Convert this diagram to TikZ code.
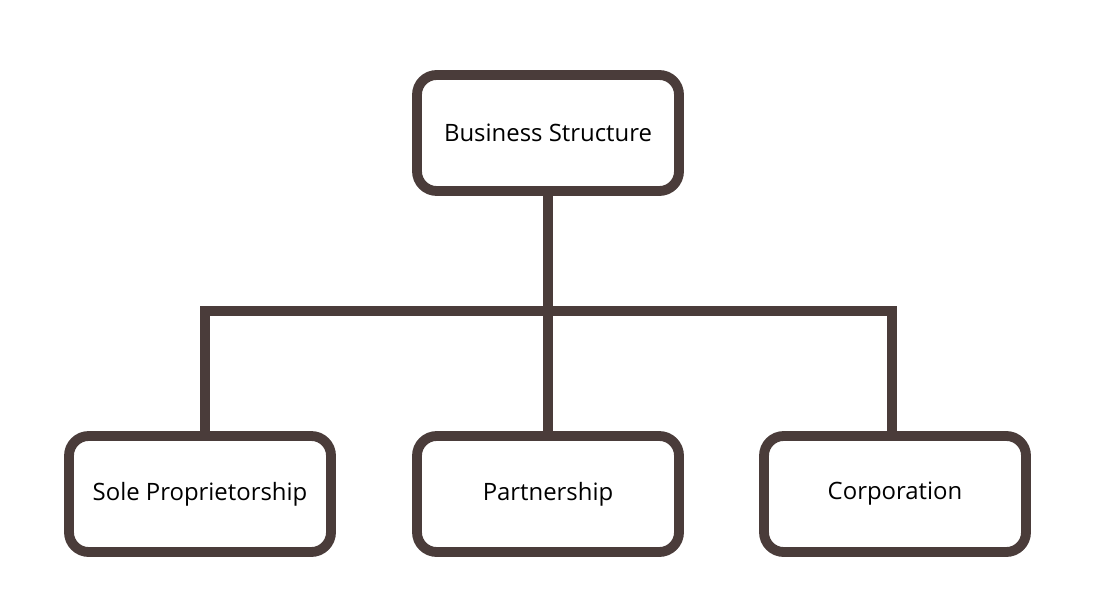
\documentclass[tikz,border=0pt]{standalone}
\usepackage{fontspec}
\setmainfont{Open Sans}
\usetikzlibrary{positioning}
\definecolor{boxline}{HTML}{4A3C3A}
\begin{document}
\begin{tikzpicture}
[x=0.025cm, y=-0.025cm,
box/.style ={rectangle, draw=boxline, line width=7pt, fill=white, rounded corners=14pt, minimum width=262*0.025cm, minimum height=116*0.025cm, align=center, font=\fontsize{17}{20}\selectfont},
link/.style ={draw=boxline, line width=7pt}]
\useasboundingbox (0,0) rectangle (1096,616);
\coordinate (hub) at (548, 311);
\coordinate (lefthub) at (205, 311);
\coordinate (righthub) at (892, 311);
\draw[link] (548, 133) -- (hub);
\draw[link] (205, 494) -- (lefthub) -- (righthub) -- (892, 494);
\draw[link] (hub) -- (548, 494);
\node[box] (top) at (548, 133) {Business Structure};
\node[box] (sole) at (200, 494) {Sole Proprietorship};
\node[box] (part) at (548, 494) {Partnership};
\node[box] (corp) at (895, 494) {Corporation};
\end{tikzpicture}
\end{document}
